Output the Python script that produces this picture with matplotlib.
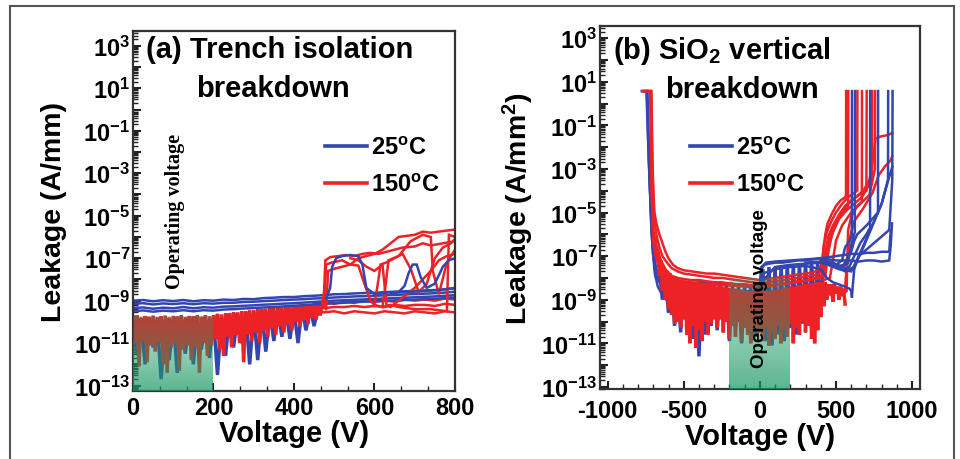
import numpy as np
import matplotlib
matplotlib.use('Agg')
import matplotlib.pyplot as plt
from matplotlib.lines import Line2D
from matplotlib.patches import Rectangle
from matplotlib.ticker import (LogLocator, FuncFormatter, MultipleLocator,
                               AutoMinorLocator, NullFormatter)

plt.rcParams['font.family'] = ['Liberation Sans', 'DejaVu Sans']
plt.rcParams['font.weight'] = 'bold'
plt.rcParams['axes.unicode_minus'] = False
plt.rcParams['mathtext.fontset'] = 'custom'
plt.rcParams['mathtext.rm'] = 'Liberation Sans:bold'
plt.rcParams['mathtext.it'] = 'Liberation Sans:bold'
plt.rcParams['mathtext.bf'] = 'Liberation Sans:bold'
plt.rcParams['mathtext.default'] = 'rm'

BLUE = '#3346b0'
RED = '#ec2226'
GREEN = '#1f9a66'

# ---------------- (a) trench isolation, values are log10(A/mm) ----------------
A_NOISE_V = np.arange(0, 475, 5)      # sweep grid of the noisy part, 150C
a_red_noise = [
    -9.75, -11.0, -9.7, -12.1, -9.8, -10.9, -9.72, -11.9, -9.76, -11.1,
    -9.7, -11.4, -9.78, -11.0, -9.74, -12.0, -9.7, -12.4, -9.8, -11.2,
    -9.72, -11.0, -9.75, -12.3, -9.7, -11.3, -9.78, -11.1, -9.72, -11.8,
    -9.74, -11.2, -9.7, -12.4, -9.76, -11.0, -9.7, -11.6, -9.74, -11.1,
    -9.68, -10.8, -9.62, -11.3, -9.65, -11.6, -9.6, -10.7, -9.58, -11.2,
    -9.55, -10.6, -9.55, -11.0, -9.5, -11.9, -9.5, -10.6, -9.45, -10.9,
    -9.45, -10.5, -9.4, -11.0, -9.4, -10.4, -9.38, -10.7, -9.35, -10.3,
    -9.35, -10.6, -9.3, -10.2, -9.3, -10.5, -9.28, -10.1, -9.25, -10.4,
    -9.25, -10.0, -9.22, -10.2, -9.2, -9.9, -9.2, -10.1, -9.18, -9.8,
    -9.15, -9.9, -9.15, -9.7, -9.15]

A_BLUE_NOISE_V = np.arange(0, 470, 10)
a_blue_noise = [
    -9.9, -11.5, -9.9, -12.0, -9.9, -11.2, -9.9, -12.7, -9.9, -11.8,
    -9.9, -12.4, -9.9, -11.5, -9.9, -12.0, -9.9, -11.3, -9.9, -11.7,
    -9.8, -12.5, -9.8, -11.6, -9.7, -11.2, -9.7, -11.0, -9.6, -12.0,
    -9.6, -11.8, -9.5, -11.4, -9.5, -10.9, -9.45, -10.7, -9.4, -10.8,
    -9.4, -11.0, -9.35, -10.4, -9.3, -10.2, -9.3]

A_FLAT_V = np.arange(0, 825, 25)
a_blue_flat = [
    [-9.0, -8.97, -9.03, -8.98, -9.02, -8.97, -9.03, -8.98, -9.0, -8.95, -8.97,
     -8.92, -8.93, -8.88, -8.86, -8.83, -8.83, -8.79, -8.77, -8.74, -8.7, -8.69,
     -8.66, -8.64, -8.63, -8.6, -8.58, -8.56, -8.54, -8.52, -8.5, -8.47, -8.42],
    [-9.15, -9.12, -9.18, -9.13, -9.16, -9.12, -9.17, -9.12, -9.14, -9.1, -9.1,
     -9.06, -9.05, -9.02, -9.0, -8.97, -8.95, -8.93, -8.9, -8.88, -8.85, -8.83,
     -8.8, -8.79, -8.77, -8.75, -8.73, -8.71, -8.69, -8.67, -8.65, -8.62, -8.58],
    [-9.35, -9.32, -9.38, -9.33, -9.36, -9.3, -9.36, -9.31, -9.33, -9.28, -9.27,
     -9.24, -9.22, -9.19, -9.17, -9.14, -9.12, -9.09, -9.06, -9.03, -9.0, -8.98,
     -8.96, -8.94, -8.92, -8.9, -8.88, -8.86, -8.84, -8.82, -8.8, -8.77, -8.74],
    [-9.5, -9.46, -9.52, -9.47, -9.5, -9.45, -9.5, -9.45, -9.47, -9.42, -9.4,
     -9.37, -9.35, -9.32, -9.3, -9.27, -9.24, -9.21, -9.18, -9.15, -9.12, -9.1,
     -9.07, -9.05, -9.03, -9.01, -8.99, -8.97, -8.95, -8.93, -8.91, -8.88, -8.85],
]

A_RED_FLAT_V = np.arange(450, 825, 25)
a_red_flat = [
    [-9.15, -9.1, -9.15, -9.05, -9.1, -9.0, -9.05, -9.0, -9.05, -8.95, -9.0, -8.95, -9.0, -8.9, -8.95],
    [-9.3, -9.35, -9.3, -9.3, -9.25, -9.3, -9.25, -9.3, -9.2, -9.25, -9.2, -9.2, -9.25, -9.15, -9.2],
    [-9.5, -9.55, -9.5, -9.6, -9.5, -9.55, -9.6, -9.5, -9.55, -9.6, -9.5, -9.55, -9.6, -9.5, -9.55],
]

# breakdown traces (voltage, log10 leakage)
a_red_bd = [
    ([470, 475, 478, 490, 510, 530, 550, 570, 590, 610, 630, 650, 670, 700, 720, 740, 770, 800],
     [-9.4, -8.5, -7.1, -6.95, -6.9, -6.85, -6.9, -6.8, -6.75, -6.8, -6.7, -6.6, -6.5, -6.45, -6.3, -6.4, -6.3, -6.2]),
    ([475, 480, 495, 520, 540, 560, 580, 600, 620, 640, 660, 680, 700, 720, 740, 760, 780, 800],
     [-9.3, -7.3, -7.2, -7.1, -7.3, -7.0, -6.9, -6.8, -6.6, -6.3, -6.0, -5.95, -5.9, -5.75, -5.8, -5.75, -5.7, -5.65]),
    ([480, 485, 500, 520, 540, 560, 575, 590, 600, 620, 640, 660, 700, 740, 780, 785, 800],
     [-9.4, -7.6, -7.5, -7.4, -7.3, -7.35, -8.2, -9.0, -9.2, -9.3, -9.2, -9.3, -9.4, -9.4, -9.5, -5.9, -6.0]),
    ([600, 610, 615, 630, 650, 670, 690, 710, 730, 750, 770, 790, 800],
     [-9.2, -8.0, -7.3, -7.2, -7.0, -6.8, -7.5, -8.6, -8.2, -7.0, -6.5, -6.3, -6.1]),
    ([620, 628, 635, 660, 690, 720, 740, 745, 760, 780, 800],
     [-9.3, -8.2, -7.1, -6.9, -6.2, -5.9, -6.0, -7.6, -8.7, -7.2, -6.6]),
    ([540, 560, 580, 600, 620, 630, 640, 660, 700, 740, 760, 780, 800],
     [-7.0, -7.1, -7.4, -7.6, -7.3, -9.2, -9.3, -9.0, -8.4, -7.6, -7.1, -6.9, -6.8]),
]
a_blue_bd = [
    ([480, 490, 495, 505, 520, 540, 560, 570, 580, 600, 640, 680, 720, 760, 800],
     [-8.9, -8.4, -7.4, -7.0, -6.9, -6.85, -6.9, -7.3, -8.4, -8.7, -8.6, -8.6, -8.55, -8.5, -8.4]),
    ([640, 660, 675, 685, 695, 705, 715, 730, 750, 770, 785, 800],
     [-8.7, -8.6, -8.3, -7.7, -7.3, -7.3, -7.9, -8.4, -8.2, -7.4, -7.1, -7.0]),
]

# ---------------- (b) SiO2 vertical, values are log10(A/mm^2) ----------------
B_RED_NOISE_V = np.arange(-690, 570, 10)
b_red_noise = [
    -6.2, -7.0, -6.8, -7.9, -7.2, -8.6, -7.5, -9.0, -7.7, -9.4,
    -7.8, -9.7, -8.0, -10.1, -8.0, -10.0, -8.1, -10.3, -8.1, -9.9,
    -8.2, -10.6, -8.2, -11.0, -8.2, -10.2, -8.2, -11.2, -8.3, -10.4,
    -8.3, -10.9, -8.3, -10.0, -8.3, -10.6, -8.35, -10.1, -8.35, -9.9,
    -8.4, -10.3, -8.4, -9.9, -8.4, -10.5, -8.45, -10.0, -8.45, -10.8,
    -8.5, -10.2, -8.5, -10.7, -8.5, -10.0, -8.55, -10.9, -8.55, -10.3,
    -8.6, -10.6, -8.6, -11.0, -8.6, -10.2, -8.65, -10.7, -8.65, -10.4,
    -8.65, -10.9, -8.6, -10.3, -8.6, -11.1, -8.6, -10.5, -8.55, -10.8,
    -8.55, -10.2, -8.5, -11.0, -8.5, -10.4, -8.45, -10.7, -8.45, -10.1,
    -8.4, -11.0, -8.4, -10.3, -8.35, -10.6, -8.35, -10.0, -8.3, -10.5,
    -8.3, -10.2, -8.25, -10.8, -8.25, -11.0, -8.2, -10.4, -8.2, -9.8,
    -8.2, -9.3, -8.2, -9.0, -8.3, -8.8, -8.3, -9.1, -8.3, -8.7,
    -8.4, -9.0, -8.4, -8.8, -8.5, -9.2]

B_BLUE_NOISE_V = np.arange(-700, 440, 20)
b_blue_noise = [
    -6.5, -8.0, -7.6, -9.0, -8.0, -9.6, -8.2, -10.2, -8.3, -10.5,
    -8.3, -10.0, -8.3, -10.8, -8.3, -11.6, -8.3, -10.6, -8.3, -10.2,
    -8.3, -10.4, -8.3, -10.0, -8.35, -10.9, -8.35, -10.4, -8.4, -11.0,
    -8.4, -10.2, -8.4, -10.8, -8.45, -10.5, -7.6, -10.9, -7.5, -11.1,
    -7.5, -10.6, -7.45, -10.9, -7.4, -10.3, -7.4, -10.6, -7.35, -10.1,
    -7.35, -10.0, -7.3, -9.7, -7.3, -9.3, -7.3]

# negative sweeps (compliance at ~10^0.57)
b_red_neg = [
    ([-770, -715, -708, -700, -692, -680, -660, -640, -620, -600, -570, -540, -500, -450, -400, -350, -300, -250, -200, -150, -100, -50, 0],
     [0.57, 0.57, -2.0, -4.0, -5.0, -5.5, -6.0, -6.4, -6.8, -7.1, -7.4, -7.55, -7.65, -7.7, -7.75, -7.8, -7.8, -7.85, -7.9, -7.95, -8.0, -8.05, -8.1]),
    ([-760, -712, -705, -695, -680, -660, -640, -610, -580, -540, -500, -450, -400, -350, -300, -250, -200, -150, -100, -50, 0],
     [0.57, 0.57, -3.0, -5.3, -6.0, -6.6, -7.0, -7.3, -7.55, -7.7, -7.8, -7.85, -7.9, -7.95, -8.0, -8.0, -8.05, -8.1, -8.15, -8.2, -8.25]),
    ([-745, -720, -712, -700, -680, -650, -620, -580, -540, -500, -450, -400, -350, -300, -250, -200, -150, -100, -50, 0],
     [0.57, 0.57, -3.5, -5.8, -6.5, -7.2, -7.6, -7.9, -8.0, -8.05, -8.1, -8.1, -8.15, -8.2, -8.2, -8.25, -8.3, -8.3, -8.35, -8.4]),
    ([-740, -718, -710, -700, -685, -665, -640, -610, -580, -540, -500, -450, -400, -300, -200, -100, 0],
     [0.57, 0.57, -4.2, -6.3, -7.0, -7.4, -7.7, -7.9, -8.0, -8.1, -8.15, -8.2, -8.25, -8.3, -8.35, -8.4, -8.45]),
]
b_blue_neg = [
    ([-776, -745, -735, -722, -712, -702, -690, -670, -640, -600, -550, -500, -450, -400, -350, -300, -250, -200, -150, -100, -50, 0],
     [0.57, 0.57, -1.5, -4.0, -5.8, -6.9, -7.5, -7.9, -8.1, -8.25, -8.3, -8.3, -8.25, -8.2, -8.2, -8.2, -8.25, -8.25, -8.3, -8.3, -8.35, -8.4]),
    ([-770, -742, -730, -715, -705, -692, -675, -650, -620, -580, -540, -500, -400, -300, -200, -100, 0],
     [0.57, 0.57, -2.5, -5.0, -6.4, -7.4, -8.0, -8.3, -8.5, -8.6, -8.6, -8.55, -8.5, -8.5, -8.55, -8.6, -8.65]),
    ([-765, -738, -726, -712, -700, -690, -670, -640, -600, -560, -520, -480, -400, -300, -200, -100, 0],
     [0.57, 0.57, -3.0, -5.8, -7.0, -7.8, -8.4, -8.8, -9.1, -9.2, -9.2, -9.1, -9.0, -8.9, -8.9, -8.95, -9.0]),
]

# positive sweeps
b_red_pos = [
    ([0, 50, 100, 150, 200, 250, 300, 350, 390, 410, 420, 430, 445, 470, 500, 530, 560, 566, 567],
     [-8.1, -8.05, -8.0, -7.95, -7.9, -7.85, -7.8, -7.75, -7.6, -7.3, -6.6, -6.0, -5.5, -5.1, -4.7, -4.45, -4.3, -4.2, 0.57]),
    ([0, 100, 200, 300, 380, 400, 410, 420, 440, 470, 500, 540, 580, 620, 640, 641],
     [-8.25, -8.15, -8.05, -7.95, -7.85, -7.7, -7.2, -6.5, -5.9, -5.4, -5.0, -4.6, -4.3, -4.1, -4.0, 0.57]),
    ([0, 100, 200, 300, 400, 420, 430, 450, 480, 520, 560, 600, 650, 700, 702],
     [-8.4, -8.3, -8.2, -8.1, -7.95, -7.6, -6.8, -6.1, -5.6, -5.1, -4.7, -4.45, -4.2, -4.0, 0.57]),
    ([0, 100, 200, 300, 400, 430, 440, 460, 490, 530, 580, 630, 680, 720, 745, 760, 800, 840, 870],
     [-8.45, -8.35, -8.25, -8.15, -8.0, -7.8, -6.9, -6.2, -5.6, -5.1, -4.6, -4.3, -4.0, -3.5, -2.5, -1.6, -1.5, -1.45, -1.35]),
    ([380, 420, 440, 450, 480, 520, 570, 620, 670, 720, 737, 738],
     [-8.0, -7.9, -7.3, -6.6, -5.9, -5.3, -4.9, -4.6, -4.3, -3.7, -3.3, 0.57]),
    ([400, 430, 445, 470, 500, 540, 580, 581],
     [-8.0, -7.9, -7.0, -6.1, -5.5, -5.0, -4.8, 0.57]),
    ([420, 460, 480, 500, 540, 600, 660, 720, 756, 757],
     [-8.1, -8.0, -7.2, -6.3, -5.6, -5.0, -4.6, -4.2, -3.0, 0.57]),
    ([540, 560, 570, 590, 620, 680, 740, 780, 820, 860, 870],
     [-8.6, -8.5, -7.5, -6.2, -5.4, -4.8, -4.1, -3.3, -2.9, -2.6, -2.4]),
    ([540, 570, 575, 580, 600, 640, 670, 671],
     [-8.8, -8.6, -7.0, -5.8, -5.2, -4.7, -4.5, 0.57]),
]
b_blue_pos = [
    ([0, 10, 30, 60, 100, 150, 200, 250, 300, 350, 400, 450, 500, 550, 600, 650, 700, 750, 800, 850, 860, 868],
     [-8.4, -7.6, -7.4, -7.35, -7.3, -7.3, -7.25, -7.2, -7.2, -7.15, -7.1, -7.15, -7.2, -7.2, -7.2, -7.25, -7.2, -7.2, -7.25, -7.2, -6.5, -5.5]),
    ([0, 10, 40, 100, 200, 300, 400, 450, 500, 550, 600, 650, 700, 750, 800, 850, 860],
     [-8.3, -7.5, -7.3, -7.25, -7.2, -7.15, -7.1, -7.05, -7.0, -6.95, -6.9, -6.9, -6.85, -6.85, -6.8, -6.8, -5.8]),
    ([0, 20, 100, 200, 300, 400, 440, 480, 520, 560, 590, 600, 605, 610, 620, 650, 700, 750, 800, 850, 870, 872],
     [-8.5, -7.8, -7.6, -7.5, -7.45, -7.6, -8.0, -8.2, -8.3, -8.4, -8.5, -8.6, -8.9, -8.4, -7.6, -7.0, -6.7, -6.4, -6.1, -5.8, -3.5, 0.57]),
    ([0, 100, 200, 300, 400, 450, 500, 550, 600, 620, 640, 700, 776, 777],
     [-8.3, -7.5, -7.4, -7.35, -7.3, -7.4, -7.5, -7.4, -6.8, -6.3, -6.0, -5.6, -5.0, 0.57]),
    ([300, 400, 450, 500, 540, 560, 590, 604, 605],
     [-7.3, -7.25, -7.3, -7.4, -7.2, -6.6, -6.3, -6.1, 0.57]),
    ([400, 480, 540, 580, 600, 620, 624, 625],
     [-7.2, -7.3, -7.5, -7.3, -6.5, -6.0, -5.9, 0.57]),
    ([400, 500, 580, 620, 660, 700, 724, 725],
     [-7.3, -7.4, -7.6, -7.0, -6.4, -6.0, -5.7, 0.57]),
    ([450, 520, 600, 650, 700, 750, 800, 842, 843],
     [-7.4, -7.6, -7.7, -7.0, -6.2, -5.4, -4.6, -3.5, 0.57]),
    ([500, 560, 620, 680, 740, 800, 840, 870],
     [-7.5, -7.7, -7.5, -6.6, -5.6, -4.6, -3.6, -2.9]),
]


def trace(ax, v, logs, color, lw=1.8):
    ax.plot(v, 10.0 ** np.asarray(logs, dtype=float), color=color, lw=lw,
            solid_joinstyle='miter')


def green_box(ax, x0, x1, lo, hi, n=40):
    # operating-voltage window: green fading upward, drawn over the traces
    edges = np.linspace(lo, hi, n + 1)
    for i in range(n):
        a = 0.72 - 0.45 * i / (n - 1)
        ax.fill_between([x0, x1], 10 ** edges[i], 10 ** edges[i + 1],
                        color=GREEN, alpha=a, lw=0, antialiased=False, zorder=5)


def log_label(v, pos):
    e = int(round(np.log10(v)))
    if e % 2 == 0:
        return ''
    return r'$\mathbf{10^{%d}}$' % e


def style(ax, ylo, yhi, xpad):
    ax.set_yscale('log')
    ax.set_ylim(10 ** ylo, 10 ** yhi)
    ax.yaxis.set_major_locator(LogLocator(base=10, numticks=40))
    ax.yaxis.set_minor_locator(LogLocator(base=10, subs=np.arange(2, 10), numticks=40))
    ax.yaxis.set_major_formatter(FuncFormatter(log_label))
    ax.yaxis.set_minor_formatter(NullFormatter())
    for s in ax.spines.values():
        s.set_linewidth(1.6)
        s.set_color('#333333')
    ax.tick_params(which='both', direction='in', top=False, right=False,
                   color='#222222')
    ax.tick_params(which='major', length=6, width=1.5)
    ax.tick_params(which='minor', length=3.5, width=1.0)
    ax.tick_params(axis='y', which='major', labelsize=17, pad=2)
    ax.tick_params(axis='x', which='major', labelsize=17, pad=xpad)
    for lab in ax.get_xticklabels():
        lab.set_fontweight('bold')


fig = plt.figure(figsize=(9.6, 4.6), dpi=100)
fig.add_artist(Rectangle((10 / 960, -0.05), 944 / 960, (453 / 460) + 0.05,
                         transform=fig.transFigure, fill=False, lw=1.5,
                         ec='#555555'))

# ---------------- panel (a) ----------------
ax1 = fig.add_axes([0.1385, 0.148, 0.3354, 0.7826])
trace(ax1, A_BLUE_NOISE_V, a_blue_noise, BLUE, 2.5)
trace(ax1, A_NOISE_V, a_red_noise, RED, 2.5)
for vals in a_red_flat:
    trace(ax1, A_RED_FLAT_V, vals, RED)
for vals in a_blue_flat:
    trace(ax1, A_FLAT_V, vals, BLUE)
for v, vals in a_red_bd:
    trace(ax1, v, vals, RED)
for v, vals in a_blue_bd:
    trace(ax1, v, vals, BLUE)
green_box(ax1, 0, 200, -13.25, -9.72)

ax1.set_xlim(0, 800)
style(ax1, -13.25, 3.7, 4)
ax1.xaxis.set_major_locator(MultipleLocator(200))
ax1.xaxis.set_minor_locator(AutoMinorLocator(3))
ax1.set_xlabel('Voltage (V)', fontsize=21, fontweight='bold', labelpad=0)
ax1.set_ylabel('Leakage (A/mm)', fontsize=20.5, fontweight='bold', labelpad=5)

ax1.text(0.455, 0.95, '(a) Trench isolation', transform=ax1.transAxes,
         ha='center', va='center', fontsize=21, fontweight='bold')
ax1.text(0.435, 0.842, 'breakdown', transform=ax1.transAxes,
         ha='center', va='center', fontsize=21, fontweight='bold')
ax1.text(104, 10 ** -4.74, 'Operating voltage', rotation=90, ha='center',
         va='center', fontsize=14.5, fontweight='bold',
         family=['Liberation Serif', 'DejaVu Serif'], zorder=6)

handles = [Line2D([], [], color=BLUE, lw=2.6), Line2D([], [], color=RED, lw=2.6)]
labels = [r'25$^{\rm o}$C', r'150$^{\rm o}$C']
ax1.legend(handles, labels, loc='center left', bbox_to_anchor=(0.596, 0.625),
           frameon=False, fontsize=17, handlelength=1.8, handletextpad=0.15,
           labelspacing=0.6, borderpad=0, borderaxespad=0)

# ---------------- panel (b) ----------------
ax2 = fig.add_axes([0.625, 0.152, 0.333, 0.789])
trace(ax2, B_BLUE_NOISE_V, b_blue_noise, BLUE, 2.5)
for v, vals in b_blue_neg:
    trace(ax2, v, vals, BLUE)
trace(ax2, B_RED_NOISE_V, b_red_noise, RED, 2.5)
for v, vals in b_red_neg:
    trace(ax2, v, vals, RED)
for v, vals in b_red_pos:
    trace(ax2, v, vals, RED)
for v, vals in b_blue_pos:
    trace(ax2, v, vals, BLUE)
green_box(ax2, -200, 200, -13.1, -8.0)

ax2.set_xlim(-1050, 1050)
style(ax2, -13.1, 3.55, 7)
ax2.xaxis.set_major_locator(MultipleLocator(500))
ax2.xaxis.set_minor_locator(MultipleLocator(100))
ax2.set_xlabel('Voltage (V)', fontsize=21, fontweight='bold', labelpad=0)
ax2.set_ylabel(r'Leakage (A/mm$^2$)', fontsize=20.5, fontweight='bold', labelpad=4)

ax2.text(0.383, 0.935, r'(b) SiO$_2$ vertical', transform=ax2.transAxes,
         ha='center', va='center', fontsize=21, fontweight='bold')
ax2.text(0.445, 0.826, 'breakdown', transform=ax2.transAxes,
         ha='center', va='center', fontsize=21, fontweight='bold')
ax2.text(0, 10 ** -8.42, 'Operating voltage', rotation=90, ha='center',
         va='center', fontsize=13.5, fontweight='bold', zorder=6)

ax2.legend(handles, labels, loc='center left', bbox_to_anchor=(0.281, 0.615),
           frameon=False, fontsize=17, handlelength=1.8, handletextpad=0.15,
           labelspacing=0.6, borderpad=0, borderaxespad=0)

fig.savefig('out.png', dpi=100)
